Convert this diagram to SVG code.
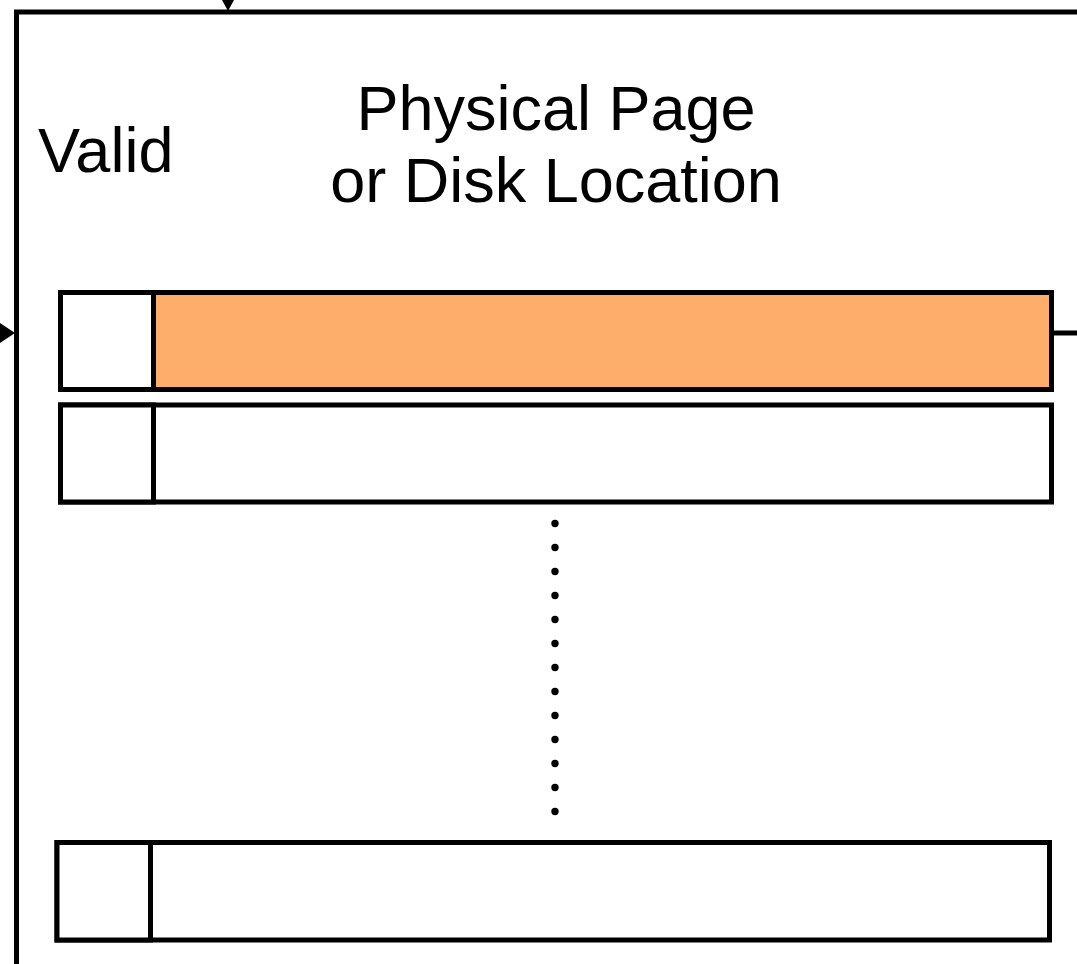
<svg xmlns="http://www.w3.org/2000/svg" width="1077" height="964" viewBox="0 0 1077 964">
<style>
.t{font-family:"Liberation Sans",Arial,sans-serif;font-size:63px;fill:#000}
.box{fill:#fff;stroke:#000;stroke-width:5}
.hl{fill:#FDAE6B}
.ln{stroke:#000;stroke-width:5;fill:none}
</style>
<g id="frame">
<path class="ln" d="M16.5 964 V12 H1080"/>
</g>
<g id="connectors">
<path class="ln" d="M228 -5 V2"/>
<polygon points="222,0 234,0 228,11" fill="#000"/>
<polygon points="0,323 0,343 15,333" fill="#000"/>
<path class="ln" d="M1053 333 H1080"/>
</g>
<g id="labels">
<text class="t" x="38" y="172">Valid</text>
<text class="t" x="556" y="130" text-anchor="middle">Physical Page</text>
<text class="t" x="556" y="202" text-anchor="middle">or Disk Location</text>
</g>
<g id="row1">
<rect class="box hl" x="60.5" y="292.5" width="991" height="97"/>
<rect class="box" x="60.5" y="292.5" width="93" height="97"/>
</g>
<g id="row2">
<rect class="box" x="60.5" y="405" width="991" height="97"/>
<rect class="box" x="60.5" y="405" width="93" height="97"/>
</g>
<g id="dots" fill="#000">
<circle cx="555" cy="523.5" r="3.7"/><circle cx="555" cy="547.5" r="3.7"/><circle cx="555" cy="571.5" r="3.7"/><circle cx="555" cy="595.5" r="3.7"/><circle cx="555" cy="619.5" r="3.7"/><circle cx="555" cy="643.5" r="3.7"/><circle cx="555" cy="667.5" r="3.7"/><circle cx="555" cy="691.5" r="3.7"/><circle cx="555" cy="715.5" r="3.7"/><circle cx="555" cy="739.5" r="3.7"/><circle cx="555" cy="763.5" r="3.7"/><circle cx="555" cy="787.5" r="3.7"/><circle cx="555" cy="811.5" r="3.7"/>
</g>
<g id="row3">
<rect class="box" x="57" y="842.5" width="992.5" height="97.5"/>
<rect class="box" x="57" y="842.5" width="93.5" height="97.5"/>
</g>
</svg>
